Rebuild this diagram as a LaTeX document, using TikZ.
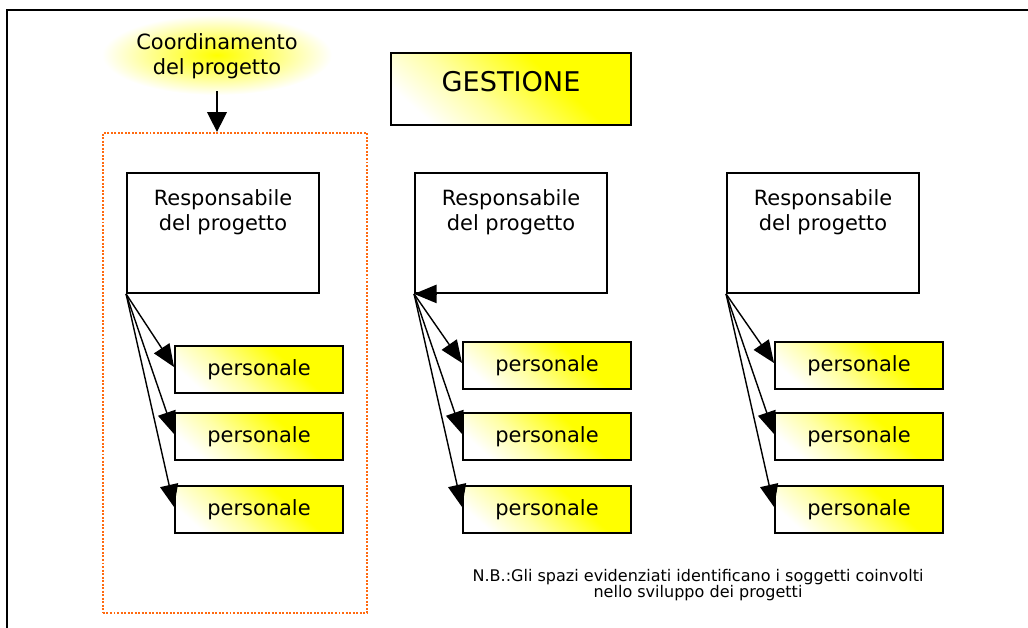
\documentclass[tikz,border=0pt]{standalone}
\usepackage{fontspec}
\setmainfont{DejaVu Sans}
\usetikzlibrary{arrows.meta,positioning,calc}
\definecolor{hi}{HTML}{FFFF00}
\definecolor{dotorange}{HTML}{FF6A10}
\pgfdeclareradialshading{glow}{\pgfpoint{0bp}{0bp}}{color(0bp)=(hi); color(8bp)=(hi!70); color(25bp)=(white); color(50bp)=(white)}
\pgfdeclarehorizontalshading{sweep}{100bp}{color(0bp)=(white); color(24bp)=(white); color(40bp)=(hi!35); color(62bp)=(hi); color(100bp)=(hi)}
\tikzset{
  txt/.style={font=\fontsize{14.9}{17.6}\selectfont,align=center,inner sep=0pt},
  box/.style={draw,line width=1.3pt,inner sep=0pt},
  lit/.style={shading=sweep,shading angle=48},
  respbox/.style={box,fill=white,minimum width=4.8cm,minimum height=3cm},
  resptext/.style={txt,anchor=north},
  staffbox/.style={box,txt,lit,minimum width=4.2cm,minimum height=1.175cm},
  headbox/.style={box,lit,minimum width=6cm,minimum height=1.8cm,font=\fontsize{19.3}{22}\selectfont,text depth=0.4cm},
  zonebox/.style={draw=dotorange,line width=1.5pt,dash pattern=on 1.4pt off 1.1pt,minimum width=6.6cm,minimum height=12cm,inner sep=0pt},
  arr/.style={line width=1pt,-{Triangle[length=16pt,width=13pt]}},
  bigarr/.style={line width=1pt,-{Triangle[length=14pt,width=14pt]}}
}
\begin{document}
\begin{tikzpicture}[x=0.025cm,y=-0.025cm]
  \useasboundingbox (0,0) rectangle (1028,628);
  \draw[line width=1.4pt] (7,628) -- (7,10) -- (1028,10);
  % glow behind the coordination label
  \shade[shading=glow] (217,55) ellipse (115 and 40);
  \node[txt,inner ysep=8.5pt] (coord) at (217,56.5) {Coordinamento\\del progetto};
  \node[zonebox] (zone) at (235,373) {};
  \draw[bigarr] (coord.south) -- (coord.south |- zone.north);
  \node[headbox] (head) at (511,89) {GESTIONE};
  % three projects
  \foreach \i/\x/\dy in {1/127/4,2/415/0,3/727/0}{
    \node[respbox] (r\i) at (\x+96,233) {};
    \node[resptext,below=0.44cm of r\i.north] (rt\i) {Responsabile\\del progetto};
    \foreach \j/\y in {1/365.5,2/436.5,3/509.5}{
      \node[staffbox] (p\i\j) at (\x+132,{\y+\dy*(\j==1)}) {personale};
      \draw[arr] (r\i.south west) -- ($(p\i\j.north west)!0.45!(p\i\j.south west)$);
    }
  }
  \draw[arr] ($(r2.south west)+(22,0)$) -- (r2.south west);
  \node[font=\fontsize{11.4}{11.8}\selectfont,align=center] (note) at (698,585)
    {N.B.:Gli spazi evidenziati identificano i soggetti coinvolti\\nello sviluppo dei progetti};
\end{tikzpicture}
\end{document}
